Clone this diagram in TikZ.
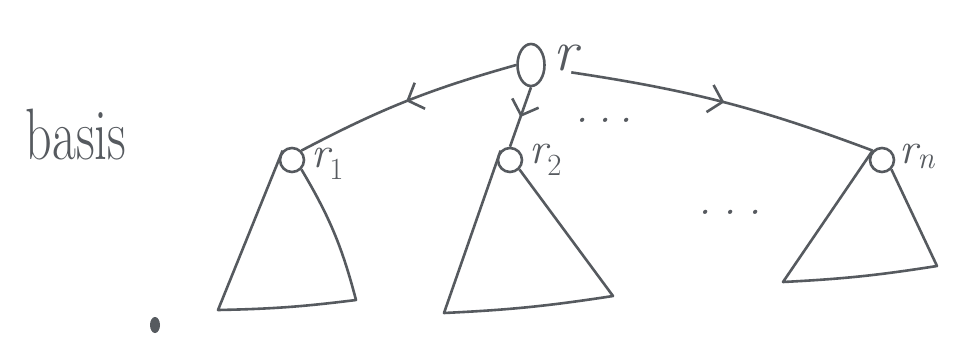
\documentclass[tikz,border=0pt]{standalone}
\usetikzlibrary{positioning, shapes.geometric, arrows.meta, decorations.markings}
\definecolor{ink}{RGB}{86,90,95}

\begin{document}
\begin{tikzpicture}[
        x=1pt, y=-1pt,
        color=ink,
        line width=2.6pt,
        vertex/.style={circle, draw, inner sep=0pt, minimum size=24pt},
        tag/.style={font=\fontsize{44}{44}\selectfont\itshape, inner sep=0pt, anchor=west},
        link/.style={postaction={decorate}, decoration={markings,
            mark=at position 0.5 with {\arrow{Straight Barb[length=13pt, width=28pt, line width=2.6pt]}}}},
        subtree/.style={line join=round},
      ]
        \useasboundingbox (0,0) rectangle (968,340);

        \node[font=\fontsize{52}{52}\selectfont] (basis) at (76,135) {\scalebox{1}[1.4]{basis}};

        % root and its children
        \node[ellipse, draw, inner sep=0pt, minimum width=27pt, minimum height=42pt] (root) at (531,65) {};
        \node[tag, font=\fontsize{58}{58}\selectfont\itshape] (rlab) at (552,58) {r};

        \node[vertex] (ra) at (292,160) {};
        \node[tag] (ralab) at (310,164) {r\textsubscript{\upshape 1}};
        \node[vertex] (rb) at (510,160) {};
        \node[tag] (rblab) at (528,160) {r\textsubscript{\upshape 2}};
        \node[vertex] (rc) at (882,160) {};
        \node[tag] (rclab) at (898,156) {r\textsubscript{n}};

        \node[tag, anchor=center] (dotsa) at (604,120) {.\hspace{10pt}.\hspace{8pt}.};
        \node[tag, anchor=center] (dotsb) at (730,212) {.\hspace{12pt}.\hspace{12pt}.};

        \draw[link] (root.west) to[bend right=6] (ra.north east);
        \draw[link] (root.south) -- (rb.north);
        \draw[link] ([xshift=6pt]rlab.south) to[bend left=6] (rc.north west);

        % subtrees
        \coordinate (ta1) at (218,310);
        \coordinate (ta2) at (356,300);
        \coordinate (tb1) at (444,313);
        \coordinate (tb2) at (613,296);
        \coordinate (tc1) at (783,282);
        \coordinate (tc2) at (937,266);
        \draw[subtree] (ra.north west) -- (ta1) to[bend right=3] (ta2) to[bend right=8] (ra.south east);
        \draw[subtree] (rb.north west) -- (tb1) to[bend right=3] (tb2) -- (rb.south east);
        \draw[subtree] (rc.north west) -- (tc1) to[bend right=3] (tc2) -- (rc.south east);

        \fill (155,325) ellipse (5pt and 8pt);
      \end{tikzpicture}
\end{document}
